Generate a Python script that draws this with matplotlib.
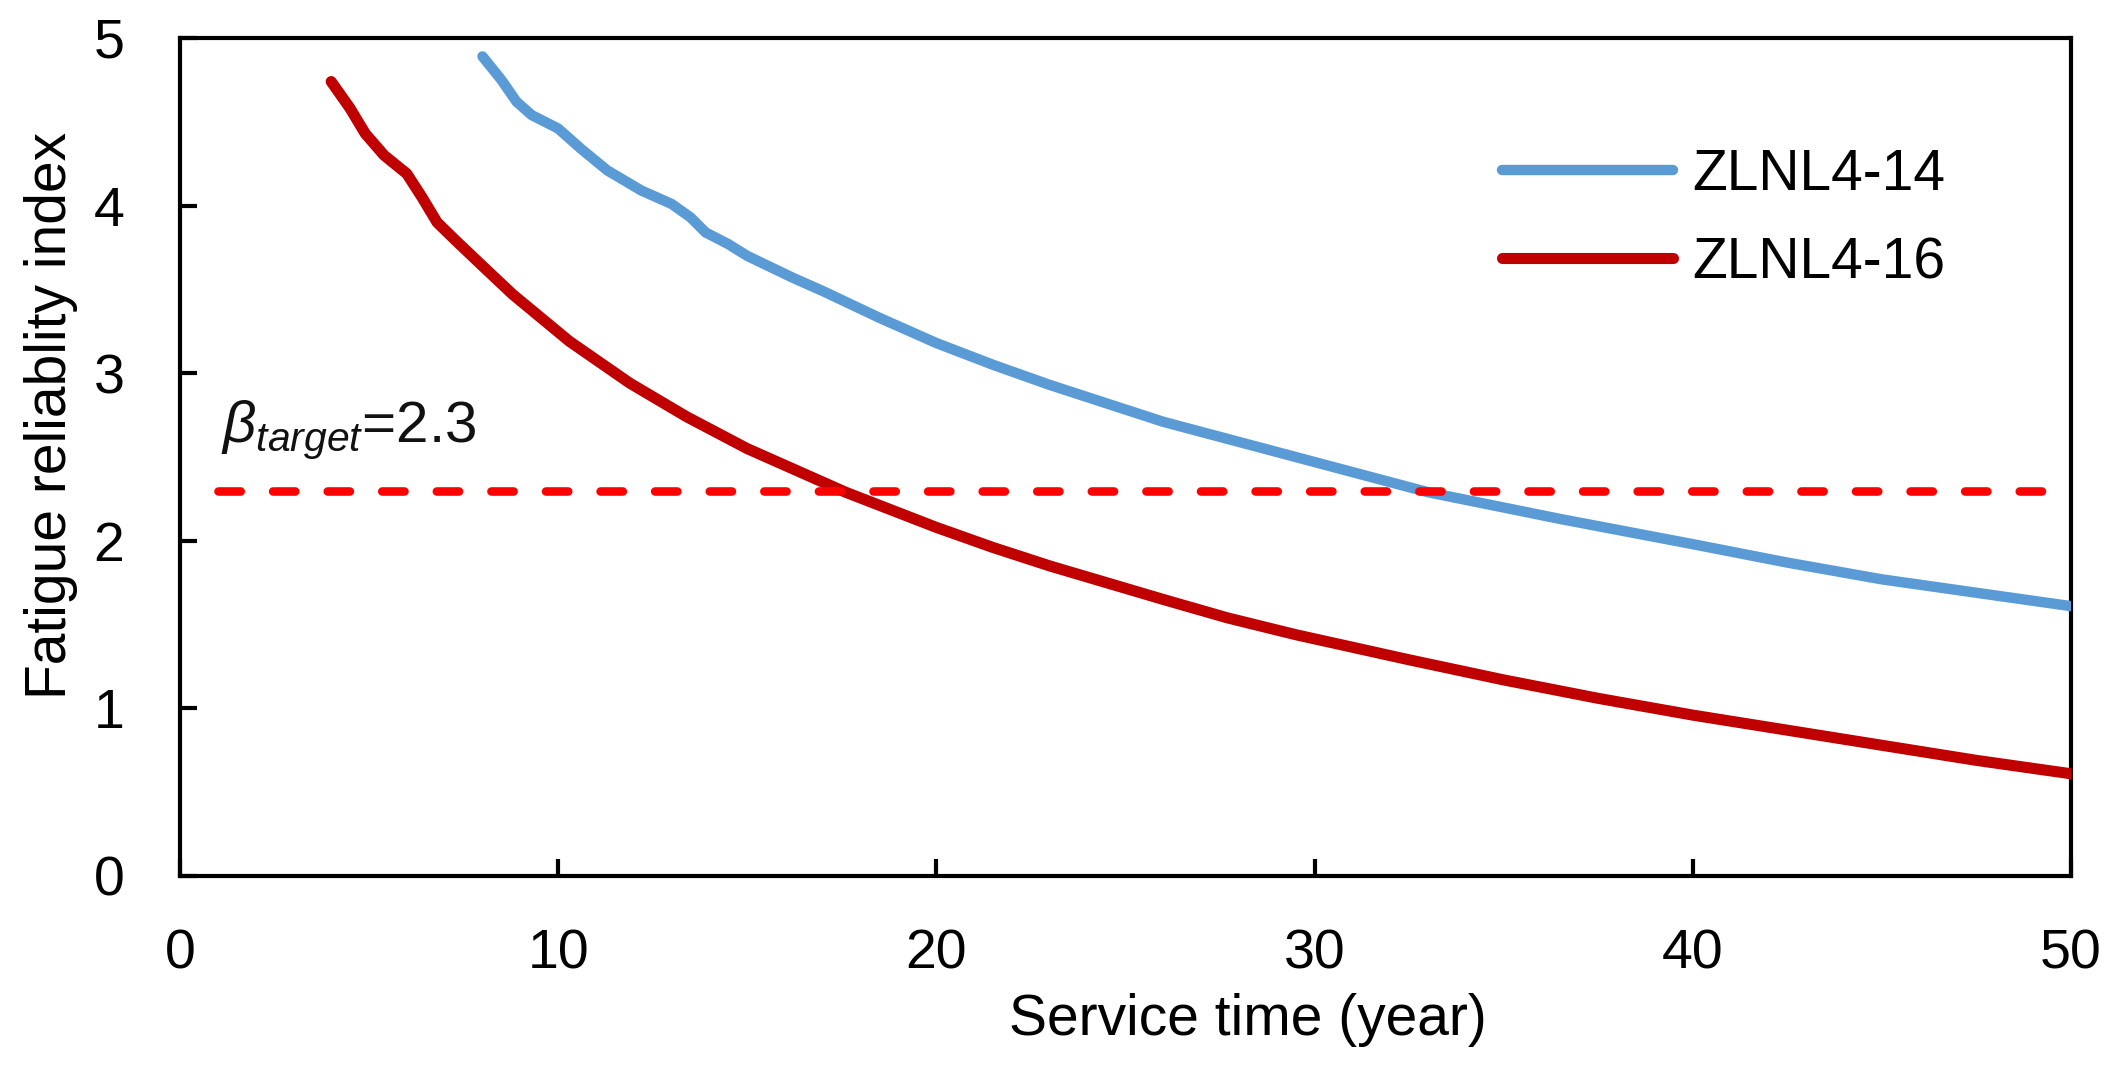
import matplotlib
matplotlib.use("Agg")
import matplotlib.pyplot as plt

plt.rcParams['font.family'] = ['Liberation Sans', 'DejaVu Sans']
plt.rcParams['mathtext.fontset'] = 'custom'
plt.rcParams['mathtext.rm'] = 'Liberation Sans'
plt.rcParams['mathtext.it'] = 'Liberation Sans:italic'
plt.rcParams['lines.scale_dashes'] = False

# Daten
jahre_14 = [8, 8.5, 8.9, 9.3, 10, 10.6, 11.3, 12.2, 13, 13.5, 13.9, 14.5, 15,
            16.2, 17, 18.5, 20, 21.5, 23, 24.5, 26, 28, 29.5, 31, 33, 36.5,
            40, 42.5, 45, 47.5, 50]
beta_14 = [4.89, 4.75, 4.62, 4.54, 4.46, 4.34, 4.21, 4.09, 4.01, 3.93, 3.84,
           3.77, 3.70, 3.57, 3.49, 3.33, 3.18, 3.05, 2.93, 2.82, 2.71, 2.59,
           2.50, 2.41, 2.29, 2.13, 1.98, 1.87, 1.77, 1.69, 1.61]

jahre_16 = [4, 4.5, 4.9, 5.4, 6, 6.4, 6.8, 7.3, 8, 8.8, 10.3, 11.9, 13.4, 15,
            16.3, 17.6, 20, 21.5, 23, 24.5, 26, 27.7, 29.5, 32.5, 35, 37.5,
            40, 42.5, 45, 47.5, 50]
beta_16 = [4.74, 4.58, 4.43, 4.30, 4.19, 4.05, 3.90, 3.79, 3.64, 3.47, 3.19,
           2.94, 2.74, 2.55, 2.42, 2.29, 2.08, 1.96, 1.85, 1.75, 1.65, 1.54,
           1.44, 1.29, 1.17, 1.06, 0.96, 0.87, 0.78, 0.69, 0.61]

beta_ziel = 2.3
ziel_von, ziel_bis = 1, 50

fig = plt.figure(figsize=(21.24, 10.73), dpi=100)
ax = fig.add_axes([0.0847, 0.1836, 0.8903, 0.781])

ax.plot(jahre_14, beta_14, color='#5B9BD5', lw=7.5, solid_capstyle='round',
        solid_joinstyle='round', label='ZLNL4-14', zorder=3)
ax.plot(jahre_16, beta_16, color='#C00000', lw=8, solid_capstyle='round',
        solid_joinstyle='round', label='ZLNL4-16', zorder=3)
ax.plot([ziel_von, ziel_bis], [beta_ziel, beta_ziel], color='#FF0000', lw=6.2,
        dashes=(16, 23.3), dash_capstyle='round', zorder=4)

ax.text(1.08, 2.59, r'$\beta_{target}$=2.3', fontsize=42, color='#111111')

ax.set_xlim(0, 50)
ax.set_ylim(0, 5)
ax.set_xticks([0, 10, 20, 30, 40, 50])
ax.set_yticks([0, 1, 2, 3, 4, 5])
ax.tick_params(axis='both', direction='in', length=12, width=3, labelsize=40)
ax.tick_params(axis='y', pad=40)
ax.tick_params(axis='x', pad=38)
for sp in ax.spines.values():
    sp.set_linewidth(3)

ax.set_xlabel('Service time (year)', fontsize=41)
ax.xaxis.set_label_coords(0.565, -0.14)
ax.set_ylabel('Fatigue reliablity index', fontsize=41)
ax.yaxis.set_label_coords(-0.054, 0.549)

ax.legend(loc='center left', bbox_to_anchor=(0.699, 0.784), frameon=False,
          fontsize=41, handlelength=3.0, handletextpad=0.35, labelspacing=0.6,
          borderaxespad=0, borderpad=0)

fig.savefig('out.png', dpi=100)
